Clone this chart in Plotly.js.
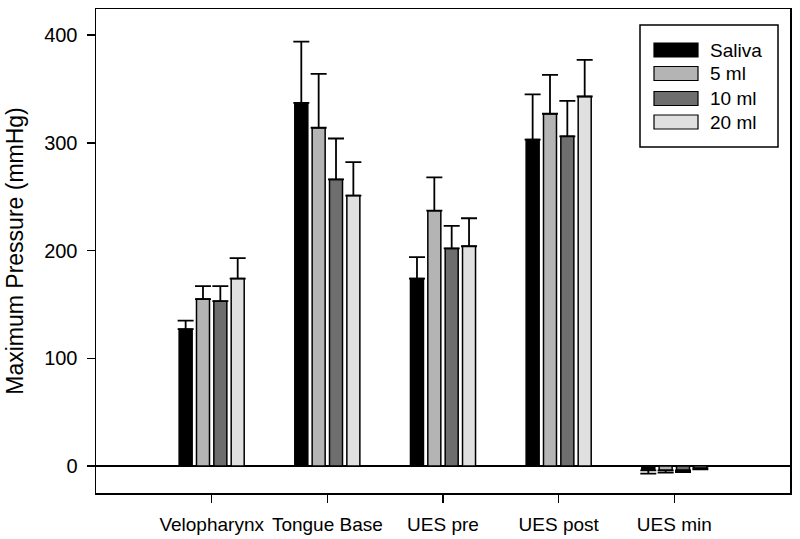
<!DOCTYPE html>
<html>
<head>
<meta charset="utf-8">
<script src="https://cdn.plot.ly/plotly-3.0.1.min.js"></script>
<style>html,body{margin:0;padding:0;background:#fff;}#chart{width:800px;height:539px;}</style>
</head>
<body>
<div id="chart"></div>
<script>
// ---- data ----
const categories = ["Velopharynx", "Tongue Base", "UES pre", "UES post", "UES min"];
const seriesNames = ["Saliva", "5 ml", "10 ml", "20 ml"];
const saliva = [127, 337, 174, 303, -4];
const ml5    = [155, 314, 237, 327, -4];
const ml10   = [153, 266, 202, 306, -4];
const ml20   = [174, 251, 204, 343, -2];
// upper error (for positive bars) and lower error (for negative bars)
const salivaErrUp = [8, 57, 20, 42, 0];
const ml5ErrUp    = [12, 50, 31, 36, 0];
const ml10ErrUp   = [14, 38, 21, 33, 0];
const ml20ErrUp   = [19, 31, 26, 34, 0];
const salivaErrDn = [0, 0, 0, 0, 3];
const ml5ErrDn    = [0, 0, 0, 0, 2];
const ml10ErrDn   = [0, 0, 0, 0, 1.5];
const ml20ErrDn   = [0, 0, 0, 0, 1];

const values = [saliva, ml5, ml10, ml20];
const errUp = [salivaErrUp, ml5ErrUp, ml10ErrUp, ml20ErrUp];
const errDn = [salivaErrDn, ml5ErrDn, ml10ErrDn, ml20ErrDn];
const colors = ["#000000", "#b4b4b4", "#6e6e6e", "#e0e0e0"];

const traces = values.map((v, i) => ({
  type: "bar",
  name: seriesNames[i],
  x: categories,
  y: v,
  marker: {color: colors[i], line: {color: "#000", width: 1.5}},
  error_y: {type: "data", symmetric: false, array: errUp[i], arrayminus: errDn[i],
            color: "#000", thickness: 1.8, width: 8},
  showlegend: false
}));

// ---- custom legend (wide swatches as in reference) ----
const L = 96, R = 790, T = 9, B = 493;
const px = x => (x - L) / (R - L);
const py = y => (B - y) / (B - T);
const shapes = [{
  type: "rect", xref: "paper", yref: "paper",
  x0: px(640), x1: px(778), y0: py(147), y1: py(25),
  line: {color: "#000", width: 1.5}, fillcolor: "#fff"
}];
const annotations = [];
const rowY = [50, 73.5, 98.5, 122];
seriesNames.forEach((n, i) => {
  shapes.push({
    type: "rect", xref: "paper", yref: "paper",
    x0: px(654), x1: px(698), y0: py(rowY[i] + 7), y1: py(rowY[i] - 7),
    line: {color: "#000", width: 1.2}, fillcolor: colors[i]
  });
  annotations.push({
    xref: "paper", yref: "paper", x: px(708), y: py(rowY[i]),
    xanchor: "left", yanchor: "middle", showarrow: false, text: n,
    font: {family: "Liberation Sans, Arial, sans-serif", size: 19, color: "#000"}
  });
});

const layout = {
  width: 800, height: 539,
  margin: {l: L, r: 800 - R, t: T, b: 539 - B, pad: 0},
  paper_bgcolor: "#fff", plot_bgcolor: "#fff",
  font: {family: "Liberation Sans, Arial, sans-serif", size: 19, color: "#000"},
  barmode: "group", bargap: 0.4, bargroupgap: 0.25,
  xaxis: {
    type: "category", categoryorder: "array", categoryarray: categories,
    range: [-1, 5], showline: true, mirror: true, linecolor: "#000", linewidth: 1.5,
    ticks: "outside", ticklen: 8, tickwidth: 1.5, tickcolor: "#000",
    showgrid: false, zeroline: false, tickfont: {size: 19}, ticklabelstandoff: 6
  },
  yaxis: {
    range: [-25, 424.2], showline: true, mirror: true, linecolor: "#000", linewidth: 1.5,
    ticks: "outside", ticklen: 8, tickwidth: 1.5, tickcolor: "#000",
    tickvals: [0, 100, 200, 300, 400], showgrid: false,
    zeroline: true, zerolinecolor: "#000", zerolinewidth: 1.5,
    tickfont: {size: 20}, ticklabelstandoff: 5,
    title: {text: "Maximum Pressure (mmHg)", font: {size: 23}, standoff: 14}
  },
  shapes: shapes,
  annotations: annotations,
  showlegend: false
};

Plotly.newPlot("chart", traces, layout, {displayModeBar: false, staticPlot: true});
</script>
</body>
</html>
